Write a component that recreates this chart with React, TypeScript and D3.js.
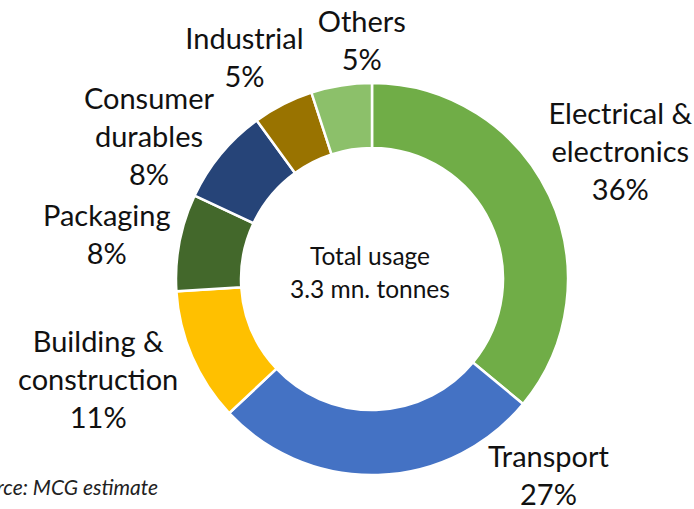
import { arc, pie } from 'd3';

const width = 694;
const height = 509;
const cx = 372;
const cy = 279;
const outerR = 196;
const innerR = 131;
const labelR = 270;
const lineH = 38;

const categories = [
  ['Electrical &', 'electronics'],
  ['Transport'],
  ['Building &', 'construction'],
  ['Packaging'],
  ['Consumer', 'durables'],
  ['Industrial'],
  ['Others'],
];
const shares = [36, 27, 11, 8, 8, 5, 5];
const colors = ['#70AD47', '#4472C4', '#FFC000', '#43682B', '#264478', '#997300', '#8CC06A'];

// hand-tuned label placement, like Excel's best fit
const labelNudge = [
  [4, -12],
  [168, -73],
  [-26, -6],
  [0, 7],
  [-15, 30],
  [-5, 20],
  [32, 29],
];

const donutArc = arc().innerRadius(innerR).outerRadius(outerR);
const labelArc = arc().innerRadius(labelR).outerRadius(labelR);

const App = () => {
  const slices = pie<number>().sort(null).value(d => d)(shares);
  const font = 'Lato, "Open Sans", sans-serif';

  return (
    <svg width={width} height={height} style={{ position: 'absolute', left: 0, top: 0 }}>
      <rect width={width} height={height} fill='white' />
      <g transform={`translate(${cx},${cy})`}>
        {slices.map((d, i) => (
          <path key={i} d={donutArc(d as any)} fill={colors[i]} stroke='white' strokeWidth={2.5} />
        ))}
      </g>
      {slices.map((d, i) => {
        const [px, py] = labelArc.centroid(d as any);
        const x = cx + px + labelNudge[i][0];
        const y = cy + py + labelNudge[i][1];
        const lines = [...categories[i], `${shares[i]}%`];
        const first = y + 10 - ((lines.length - 1) * lineH) / 2;
        return (
          <text key={i} x={x} textAnchor='middle' fontFamily={font} fontSize={29} fill='#111'>
            {lines.map((t, j) => (
              <tspan key={j} x={x} y={first + j * lineH}>{t}</tspan>
            ))}
          </text>
        );
      })}
      <text textAnchor='middle' fontFamily={font} fontSize={24.5} fill='#111'>
        <tspan x={370} y={265}>Total usage</tspan>
        <tspan x={370} y={298}>3.3 mn. tonnes</tspan>
      </text>
      <text x={158} y={495} textAnchor='end' fontFamily={font} fontStyle='italic' fontSize={21} fill='#222'>
        Source: MCG estimate
      </text>
    </svg>
  );
};

export default App;
